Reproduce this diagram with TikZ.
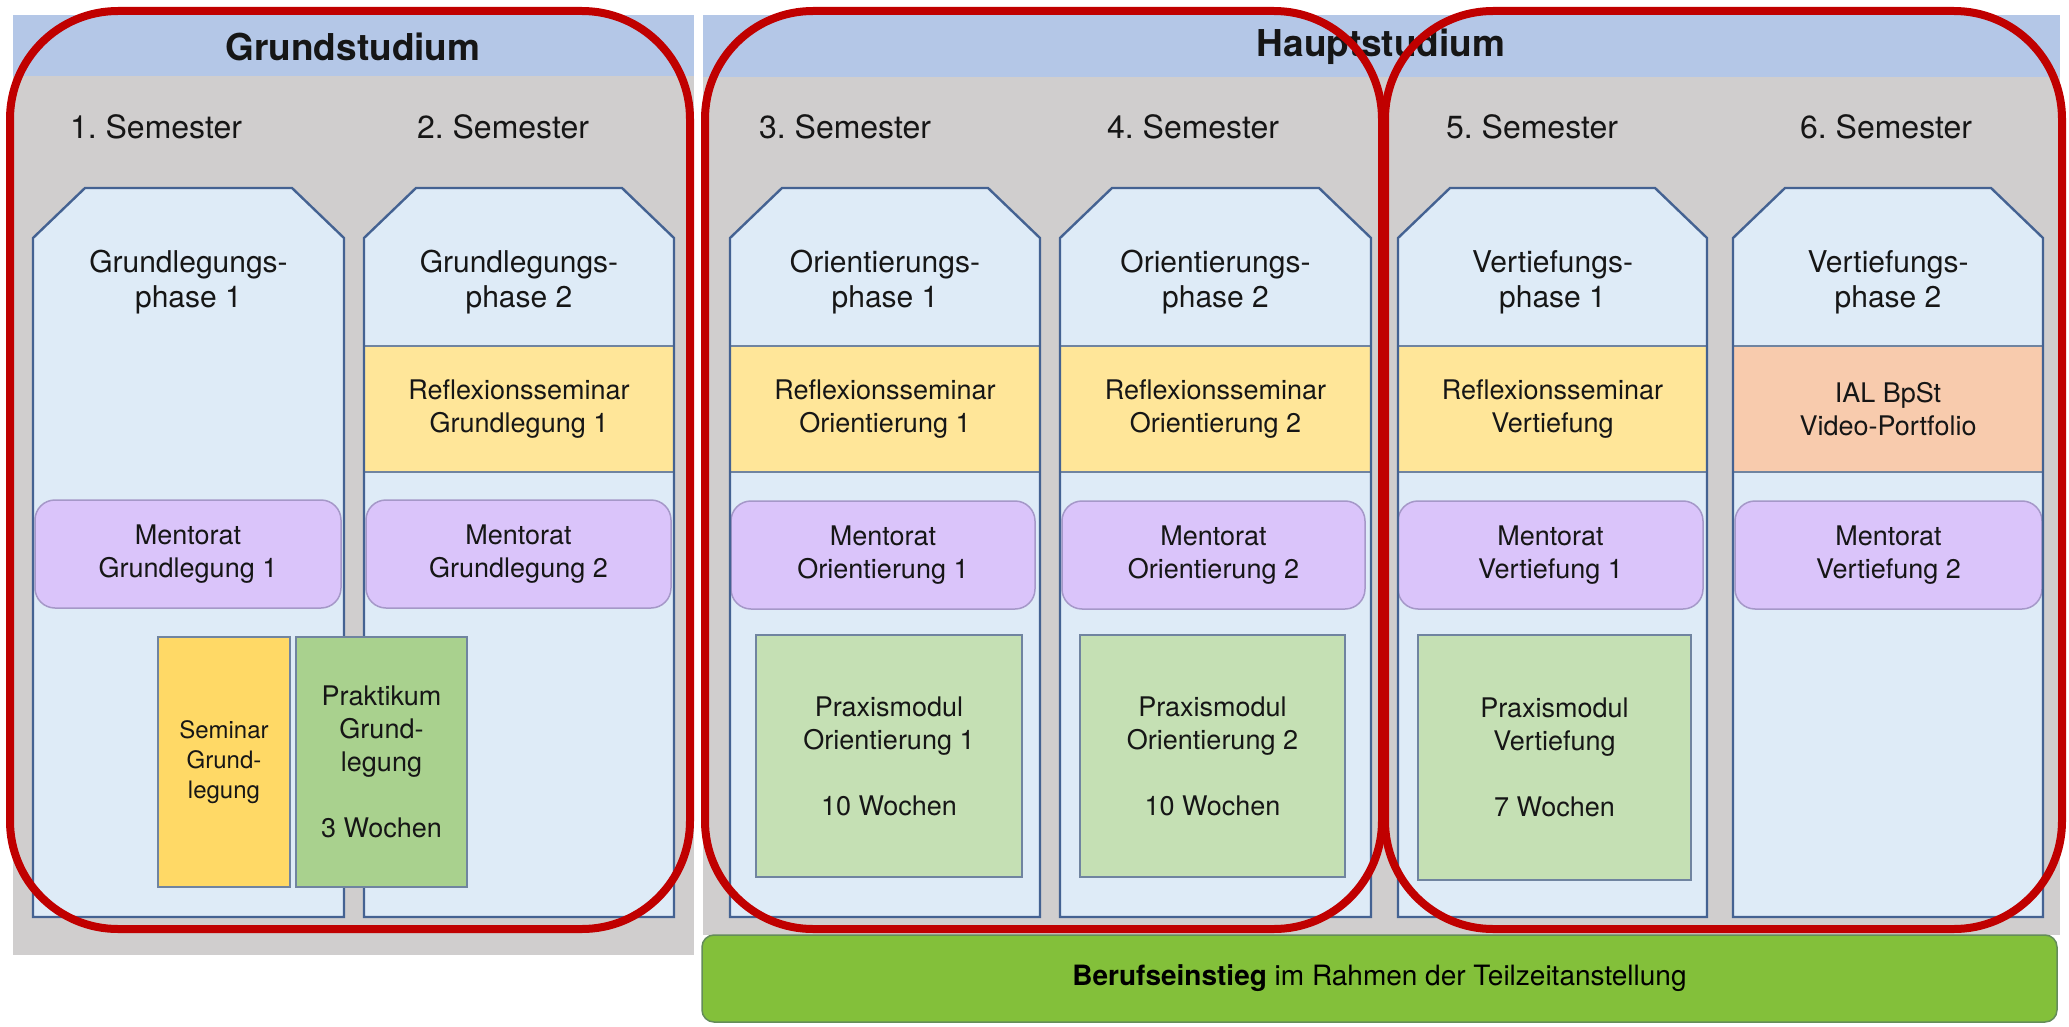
\documentclass[tikz,border=0pt]{standalone}
\usepackage{fontspec}
\setmainfont{TeX Gyre Heros}
\frenchspacing
\definecolor{panelgrey}{RGB}{208,206,206}
\definecolor{headblue}{RGB}{180,199,231}
\definecolor{colfill}{RGB}{222,235,247}
\definecolor{colborder}{RGB}{68,98,146}
\definecolor{bandyellow}{RGB}{255,230,153}
\definecolor{bandsalmon}{RGB}{248,203,173}
\definecolor{thinborder}{RGB}{112,132,160}
\definecolor{mentfill}{RGB}{218,196,250}
\definecolor{mentborder}{RGB}{165,152,200}
\definecolor{semgold}{RGB}{255,217,102}
\definecolor{praktgreen}{RGB}{169,209,142}
\definecolor{praxgreen}{RGB}{197,224,180}
\definecolor{bargreen}{RGB}{131,192,58}
\definecolor{barborder}{RGB}{100,140,90}
\definecolor{redline}{RGB}{192,0,0}
\definecolor{txtcol}{RGB}{22,22,22}
\begin{document}
\begin{tikzpicture}[x=1pt,y=-1pt,
  lbl/.style={inner sep=0pt, outer sep=0pt, text=txtcol, align=center, font=\fontsize{27}{33}\selectfont},
  semlbl/.style={lbl, font=\fontsize{32}{38}\selectfont},
  phaselbl/.style={lbl, font=\fontsize{30}{35}\selectfont},
  headlbl/.style={lbl, font=\fontsize{37}{42}\selectfont\bfseries},
  bandbox/.style={lbl, draw=thinborder, line width=1.5pt, minimum height=126pt},
  ylwbox/.style={bandbox, fill=bandyellow},
  slmbox/.style={bandbox, fill=bandsalmon},
  mentbox/.style={lbl, fill=mentfill, draw=mentborder, line width=1.5pt, rounded corners=20pt, minimum height=108pt},
  praxbox/.style={lbl, fill=praxgreen, draw=thinborder, line width=2pt, minimum height=242pt},
  grundbox/.style={lbl, draw=thinborder, line width=2pt, minimum height=250pt},
  redframe/.style={draw=redline, line width=8pt, rounded corners=108pt},
  colfillst/.style={fill=colfill},
  coldrawst/.style={draw=colborder, line width=2.4pt, line join=miter}
]
\useasboundingbox (0,0) rectangle (2069,1027);
\fill[white] (0,0) rectangle (2069,1027);

% panels
\fill[panelgrey] (13,15) rectangle (694,955);
\fill[headblue] (13,15) rectangle (694,76);
\fill[panelgrey] (703,15) rectangle (2060,935);
\fill[headblue] (703,15) rectangle (2060,77);

% header texts
\node[headlbl] (hgrund) at (353,47) {Grundstudium};
\node[headlbl] (hhaupt) at (1381,47) {Hauptstudium};

% semester labels
\node[semlbl] (s1) at (156,127) {1. Semester};
\node[semlbl] (s2) at (503,127) {2. Semester};
\node[semlbl] (s3) at (845,127) {3. Semester};
\node[semlbl] (s4) at (1193,127) {4. Semester};
\node[semlbl] (s5) at (1532,127) {5. Semester};
\node[semlbl] (s6) at (1886,127) {6. Semester};

% column fills
\foreach \a/\b in {33/344,364/674,730/1040,1060/1371,1398/1707,1733/2043}{
  \path[colfillst] (\a,917) -- (\a,238) -- ({\a+52},188) -- ({\b-52},188) -- (\b,238) -- (\b,917) -- cycle;
}

% phase texts
\node[phaselbl] (p1) at (188.5,282) {Grundlegungs-\\phase 1};
\node[phaselbl] (p2) at (519,282) {Grundlegungs-\\phase 2};
\node[phaselbl] (p3) at (885,282) {Orientierungs-\\phase 1};
\node[phaselbl] (p4) at (1215.5,282) {Orientierungs-\\phase 2};
\node[phaselbl] (p5) at (1552.5,282) {Vertiefungs-\\phase 1};
\node[phaselbl] (p6) at (1888,282) {Vertiefungs-\\phase 2};

% bands
\node[ylwbox, minimum width=310pt] (b2) at (519,409) {Reflexionsseminar\\Grundlegung 1};
\node[ylwbox, minimum width=310pt] (b3) at (885,409) {Reflexionsseminar\\Orientierung 1};
\node[ylwbox, minimum width=311pt] (b4) at (1215.5,409) {Reflexionsseminar\\Orientierung 2};
\node[ylwbox, minimum width=309pt] (b5) at (1552.5,409) {Reflexionsseminar\\Vertiefung};
\node[slmbox, minimum width=310pt] (b6) at (1888,409) {IAL BpSt\\Video-Portfolio};

% mentorat
\node[mentbox, minimum width=306pt] (m1) at (188,554) {Mentorat\\Grundlegung 1};
\node[mentbox, minimum width=305pt] (m2) at (518.5,554) {Mentorat\\Grundlegung 2};
\node[mentbox, minimum width=304pt] (m3) at (883,555) {Mentorat\\Orientierung 1};
\node[mentbox, minimum width=303pt] (m4) at (1213.5,555) {Mentorat\\Orientierung 2};
\node[mentbox, minimum width=305pt] (m5) at (1550.5,555) {Mentorat\\Vertiefung 1};
\node[mentbox, minimum width=307pt] (m6) at (1888.5,555) {Mentorat\\Vertiefung 2};

% column outlines
\foreach \a/\b in {33/344,364/674,730/1040,1060/1371,1398/1707,1733/2043}{
  \path[coldrawst] (\a,917) -- (\a,238) -- ({\a+52},188) -- ({\b-52},188) -- (\b,238) -- (\b,917) -- cycle;
}

% practice boxes
\node[grundbox, fill=semgold, minimum width=132pt, font=\fontsize{24}{30}\selectfont] (sem) at (224,762) {Seminar\\Grund-\\legung};
\node[grundbox, fill=praktgreen, minimum width=171pt] (prakt) at (381.5,762) {Praktikum\\Grund-\\legung\\[33pt]3 Wochen};
\node[praxbox, minimum width=266pt] (x3) at (889,756) {Praxismodul\\Orientierung 1\\[33pt]10 Wochen};
\node[praxbox, minimum width=265pt] (x4) at (1212.5,756) {Praxismodul\\Orientierung 2\\[33pt]10 Wochen};
\node[praxbox, minimum width=273pt, minimum height=245pt] (x5) at (1554.5,757.5) {Praxismodul\\Vertiefung\\[33pt]7 Wochen};

% bottom bar
\node[lbl, fill=bargreen, draw=barborder, line width=1.5pt, rounded corners=12pt, minimum width=1355pt, minimum height=87pt, font=\fontsize{28}{34}\selectfont, text=black] (bar) at (1379.5,978.5) {\textbf{Berufseinstieg} im Rahmen der Teilzeitanstellung};

% red frames
\path[redframe] (10,11) rectangle (690,929);
\path[redframe] (705,11) rectangle (1382,929);
\path[redframe] (1385,11) rectangle (2062,929);
\end{tikzpicture}
\end{document}
